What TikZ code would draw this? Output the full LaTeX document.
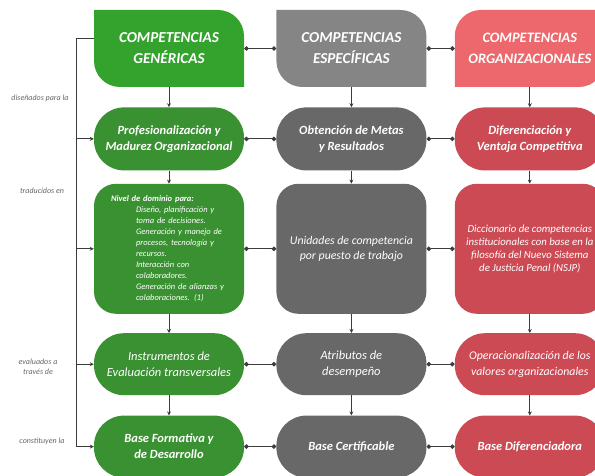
\documentclass[tikz,border=0pt]{standalone}
\usepackage{fontspec}
\setmainfont{Carlito}
\usetikzlibrary{arrows.meta, positioning}

\definecolor{genhead}{RGB}{52,163,46}
\definecolor{genbox}{RGB}{58,145,50}
\definecolor{esphead}{RGB}{133,133,133}
\definecolor{espbox}{RGB}{104,104,104}
\definecolor{orghead}{RGB}{236,104,108}
\definecolor{orgbox}{RGB}{204,74,84}
\definecolor{linegray}{RGB}{60,60,60}

\begin{document}
\begin{tikzpicture}[
        x=1pt, y=1pt,
        node distance=20pt,
        box/.style={rectangle, minimum width=150pt, inner sep=0pt, align=center, text=white, font=\itshape\fontsize{12.5}{15.5}\selectfont},
        boldtext/.style={font=\bfseries\itshape\fontsize{12.5}{16}\selectfont},
        pill/.style={box, rounded corners=30pt, minimum height=62pt},
        bigbox/.style={box, rounded corners=22pt, minimum height=130pt},
        headA/.style={box, minimum height=77pt, font=\bfseries\itshape\fontsize{15.2}{21}\selectfont,
            path picture={\fill[#1] (path picture bounding box.north west) -- ([xshift=-26pt]path picture bounding box.north east)
                arc[start angle=90, end angle=0, radius=26pt] -- (path picture bounding box.south east)
                -- ([xshift=26pt]path picture bounding box.south west) arc[start angle=270, end angle=180, radius=26pt] -- cycle;}},
        headB/.style={box, minimum height=77pt, font=\bfseries\itshape\fontsize{14.4}{21}\selectfont,
            path picture={\fill[#1] ([yshift=-26pt]path picture bounding box.north west) arc[start angle=180, end angle=90, radius=26pt]
                -- (path picture bounding box.north east) -- ([yshift=26pt]path picture bounding box.south east)
                arc[start angle=0, end angle=-90, radius=26pt] -- (path picture bounding box.south west) -- cycle;}},
        side/.style={font=\itshape\fontsize{8}{9.5}\selectfont, text=black!60, align=center},
        link/.style={{Circle[length=4.5pt, width=4.5pt]}-{Circle[length=4.5pt, width=4.5pt]}, linegray, line width=0.8pt},
        arrow/.style={-{Stealth[length=4pt, width=4pt]}, linegray, line width=0.8pt}
    ]
    \clip (0,0) rectangle (595,-476);

    % Headers
    \node[headA=genhead] (gen1) at (169,-48.5) {COMPETENCIAS\\GENÉRICAS};
    \node[headA=esphead, right=32pt of gen1] (esp1) {COMPETENCIAS\\ESPECÍFICAS};
    \node[headB=orghead, right=30pt of esp1, xshift=-2pt] (org1) {COMPETENCIAS\\ORGANIZACIONALES};

    % Genericas column
    \node[pill, boldtext, fill=genbox, minimum height=63pt, below=of gen1] (gen2) {Profesionalización y\\Madurez Organizacional};
    \node[bigbox, fill=genbox, below=13pt of gen2, text width=116pt, align=left, font=\itshape\fontsize{8.5}{11}\selectfont] (gen3) {{\bfseries Nivel de dominio para:}\\
        \hspace*{25pt}Diseño, planificación y\\
        \hspace*{25pt}toma de decisiones.\\
        \hspace*{25pt}Generación y manejo de\\
        \hspace*{25pt}procesos, tecnología y\\
        \hspace*{25pt}recursos.\\
        \hspace*{25pt}Interacción con\\
        \hspace*{25pt}colaboradores.\\
        \hspace*{25pt}Generación de alianzas y\\
        \hspace*{25pt}colaboraciones. (1)};
    \node[pill, fill=genbox, below=19pt of gen3] (gen4) {Instrumentos de\\Evaluación transversales};
    \node[pill, boldtext, fill=genbox, below=of gen4] (gen5) {Base Formativa y\\de Desarrollo};

    % Especificas column
    \node[pill, boldtext, fill=espbox, minimum height=63pt, below=of esp1] (esp2) {Obtención de Metas\\y Resultados};
    \node[bigbox, fill=espbox, below=13pt of esp2, font=\itshape\fontsize{11.8}{15}\selectfont] (esp3) {Unidades de competencia\\por puesto de trabajo};
    \node[pill, fill=espbox, below=19pt of esp3] (esp4) {Atributos de\\desempeño};
    \node[pill, boldtext, fill=espbox, below=of esp4] (esp5) {Base Certificable};

    % Organizacionales column
    \node[pill, boldtext, fill=orgbox, minimum height=63pt, below=of org1] (org2) {Diferenciación y\\Ventaja Competitiva};
    \node[bigbox, fill=orgbox, below=13pt of org2, font=\itshape\fontsize{10.8}{12.8}\selectfont] (org3) {Diccionario de competencias\\institucionales con base en la\\filosofía del Nuevo Sistema\\de Justicia Penal (NSJP)};
    \node[pill, fill=orgbox, below=19pt of org3, font=\itshape\fontsize{11.8}{15.5}\selectfont] (org4) {Operacionalización de los\\valores organizacionales};
    \node[pill, boldtext, fill=orgbox, below=of org4] (org5) {Base Diferenciadora};

    % Left labels
    \node[side] (lbl1) at (40,-98) {diseñados para la};
    \node[side] (lbl2) at (42,-191) {traducidos en};
    \node[side] (lbl3) at (38,-367) {evaluados a\\través de};
    \node[side] (lbl4) at (42,-441) {constituyen la};

    % Left spine
    \coordinate (spine) at (76,-38);
    \draw[linegray, line width=0.7pt] (gen1.west |- spine) -- (spine) -- (spine |- gen5.west);
    \foreach \n in {gen2, gen3, gen4, gen5}
        \draw[arrow] (spine |- \n.west) -- (\n.west);

    % Down arrows
    \foreach \c in {gen, esp, org} {
        \draw[arrow] (\c1) -- (\c2);
        \draw[arrow] (\c2) -- (\c3);
        \draw[arrow] (\c3) -- (\c4);
        \draw[arrow] (\c4) -- (\c5);
    }

    % Links between columns
    \foreach \r in {1,...,5} {
        \draw[link] (gen\r) -- (esp\r);
        \draw[link] (esp\r) -- (org\r);
    }

\end{tikzpicture}
\end{document}
